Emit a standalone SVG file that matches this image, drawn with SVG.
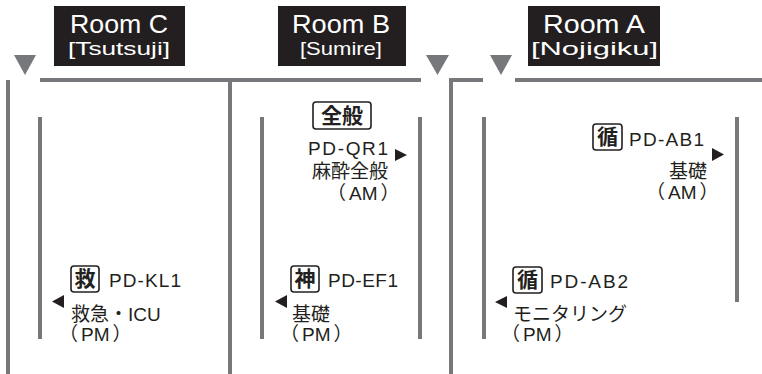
<svg xmlns="http://www.w3.org/2000/svg" width="762" height="374" viewBox="0 0 762 374">
  <style>
    .bg { fill: #ffffff; }
    .wall { fill: none; stroke: #77787b; stroke-width: 4; }
    .tri { fill: #77787b; }
    .title-box { fill: #231f20; }
    .title { fill: #ffffff; font-family: "Liberation Sans", "Noto Sans CJK JP", sans-serif; }
    .t1 { font-size: 25px; }
    .t2 { font-size: 19px; }
    .lbl { fill: #231f20; font-family: "Liberation Sans", "Noto Sans CJK JP", sans-serif; font-size: 19px; }
    .tag { fill: #ffffff; stroke: #231f20; stroke-width: 1.6; }
    .tagtxt { fill: #231f20; font-family: "Noto Sans CJK JP", sans-serif; font-size: 21px; font-weight: 700; text-anchor: middle; }
    .arr { fill: #231f20; }
  </style>
  <rect class="bg" x="0" y="0" width="762" height="374"/>

  <g id="connectors">
    <path class="wall" d="M8 80 V374"/>
    <path class="wall" d="M40 80 H421"/>
    <path class="wall" d="M230 80 V374"/>
    <path class="wall" d="M483 80 H451 V374"/>
    <path class="wall" d="M515 80 H762"/>
    <path class="wall" d="M40 117 V339"/>
    <path class="wall" d="M262 117 V339"/>
    <path class="wall" d="M420 117 V339"/>
    <path class="wall" d="M484 117 V339"/>
    <path class="wall" d="M737 117 V302"/>
    <polygon class="tri" points="14,55 36,55 25,75"/>
    <polygon class="tri" points="426,55 449,55 437.5,75"/>
    <polygon class="tri" points="490,55 512,55 501,75"/>
  </g>

  <g id="room-c-title">
    <rect class="title-box" x="54" y="6" width="131" height="60"/>
    <text class="title t1" x="70" y="33" textLength="98" lengthAdjust="spacingAndGlyphs">Room C</text>
    <text class="title t2" x="68" y="55" textLength="102" lengthAdjust="spacingAndGlyphs">[Tsutsuji]</text>
  </g>
  <g id="room-b-title">
    <rect class="title-box" x="278" y="6" width="128" height="60"/>
    <text class="title t1" x="292" y="33" textLength="98" lengthAdjust="spacingAndGlyphs">Room B</text>
    <text class="title t2" x="300" y="55" textLength="82" lengthAdjust="spacingAndGlyphs">[Sumire]</text>
  </g>
  <g id="room-a-title">
    <rect class="title-box" x="528" y="6" width="132" height="60"/>
    <text class="title t1" x="543" y="33" textLength="102" lengthAdjust="spacingAndGlyphs">Room A</text>
    <text class="title t2" x="531" y="55" textLength="127" lengthAdjust="spacingAndGlyphs">[Nojigiku]</text>
  </g>

  <g id="pd-qr1">
    <rect class="tag" x="313" y="102" width="58" height="27" rx="3"/>
    <text class="tagtxt" x="342" y="123">全般</text>
    <text class="lbl" x="308" y="155" textLength="80" lengthAdjust="spacing">PD-QR1</text>
    <polygon class="arr" points="395,149 395,161 407,155"/>
    <text class="lbl" x="388" y="178" text-anchor="end">麻酔全般</text>
    <text class="lbl" x="327" y="200">（<tspan dx="3">AM</tspan><tspan dx="3">）</tspan></text>
  </g>

  <g id="pd-ab1">
    <rect class="tag" x="593" y="124" width="29" height="26" rx="3"/>
    <text class="tagtxt" x="607.5" y="144">循</text>
    <text class="lbl" x="629" y="146" textLength="75" lengthAdjust="spacing">PD-AB1</text>
    <polygon class="arr" points="712,148 712,161 724,154.5"/>
    <text class="lbl" x="707" y="178" text-anchor="end">基礎</text>
    <text class="lbl" x="646" y="199">（<tspan dx="3">AM</tspan><tspan dx="3">）</tspan></text>
  </g>

  <g id="pd-kl1">
    <rect class="tag" x="71" y="266" width="28" height="26" rx="3"/>
    <text class="tagtxt" x="85" y="286">救</text>
    <text class="lbl" x="109" y="287" textLength="72" lengthAdjust="spacing">PD-KL1</text>
    <polygon class="arr" points="64,295 64,308 52,301.5"/>
    <text class="lbl" x="71" y="321">救急・ICU</text>
    <text class="lbl" x="59" y="341">（<tspan dx="3">PM</tspan><tspan dx="3">）</tspan></text>
  </g>

  <g id="pd-ef1">
    <rect class="tag" x="291" y="266" width="28" height="26" rx="3"/>
    <text class="tagtxt" x="305" y="286">神</text>
    <text class="lbl" x="328" y="287" textLength="70" lengthAdjust="spacing">PD-EF1</text>
    <polygon class="arr" points="287,295 287,308 275,301.5"/>
    <text class="lbl" x="292" y="321">基礎</text>
    <text class="lbl" x="280" y="341">（<tspan dx="3">PM</tspan><tspan dx="3">）</tspan></text>
  </g>

  <g id="pd-ab2">
    <rect class="tag" x="513" y="267" width="29" height="26" rx="3"/>
    <text class="tagtxt" x="527.5" y="287">循</text>
    <text class="lbl" x="550" y="288" textLength="78" lengthAdjust="spacing">PD-AB2</text>
    <polygon class="arr" points="507,296 507,308 495,302"/>
    <text class="lbl" x="513" y="321">モニタリング</text>
    <text class="lbl" x="501" y="341">（<tspan dx="3">PM</tspan><tspan dx="3">）</tspan></text>
  </g>
</svg>
